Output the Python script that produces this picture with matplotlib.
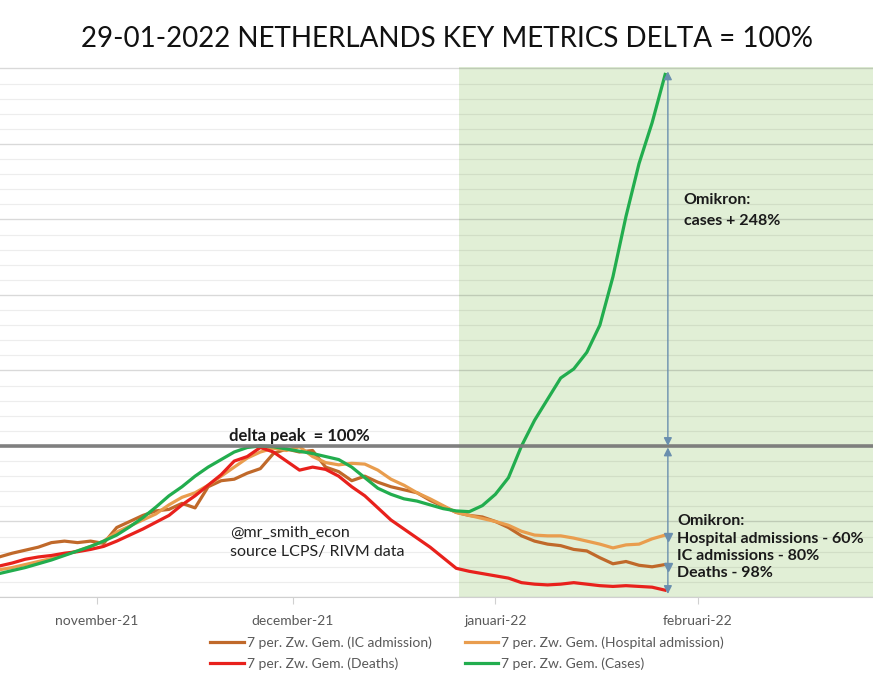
import numpy as np
import pandas as pd
import matplotlib
matplotlib.use("Agg")
import matplotlib.pyplot as plt
import matplotlib.dates as mdates
from matplotlib.ticker import MultipleLocator

# Datos (% del pico delta), cada 2 dias desde 17-10-2021
fechas = pd.date_range("2021-10-17", periods=52, freq="2D")

ic_admission = [26.5, 29, 31, 33, 36, 37, 36, 37, 35.5, 46, 50, 54, 57, 58, 62, 59,
                73, 77, 78, 82, 85, 95, 98, 96, 97, 86, 83, 77, 80, 76, 73, 71,
                69, 64, 60, 56, 54, 53, 50, 46, 40.5, 37, 35, 34, 31.5, 30.5, 26, 22,
                23.5, 21, 20, 21.5]
hospital_admission = [18, 19.5, 21.5, 23.5, 25.5, 28, 30.5, 33.5, 37, 43, 47, 51, 55, 61, 66, 69,
                      74, 80, 86, 92, 96, 98.5, 97, 99.5, 93, 89, 87.5, 88.5, 88, 84, 78, 74,
                      69, 65, 60.5, 56, 54, 52, 50, 47.5, 43.5, 41, 40.5, 40.5, 39, 37, 35, 32.5,
                      34.5, 35, 38.5, 41]
deaths = [20.5, 22.5, 25, 26.5, 27.5, 29, 30, 31.5, 33.5, 37, 41, 45, 49.5, 54, 61, 67,
          74, 81, 90, 93, 99, 96, 90, 84, 86, 84.5, 80, 73, 67, 59, 51, 45,
          39, 33, 26, 19, 17, 15.5, 14, 12.5, 9.5, 8.5, 8, 8.5, 9.5, 8.5, 7.5, 7,
          7.5, 7, 6.5, 4.5]
cases = [15.5, 17.5, 19.5, 22, 24.5, 27.5, 30.5, 33.5, 37, 41, 46.5, 52.5, 59.5, 67, 73, 80,
         86, 91, 96, 99, 100, 99.5, 98, 96.5, 95, 93, 91, 86, 79, 72, 68, 65,
         63.5, 61, 58.5, 57, 56.5, 60.5, 68, 79, 100, 117, 131, 145, 151, 162, 180, 212,
         252, 287, 314, 346]

etiquetas_mes = ["november-21", "december-21", "januari-22", "februari-22"]
fechas_mes = pd.to_datetime(["2021-11-01", "2021-12-01", "2022-01-01", "2022-02-01"])

omikron_inicio = pd.Timestamp("2021-12-26 10:00")
fecha_flecha = pd.Timestamp("2022-01-27 10:00")

plt.rcParams["font.family"] = ["Lato", "DejaVu Sans"]

fig = plt.figure(figsize=(8.73, 6.84), dpi=100)
ax = fig.add_axes([0, 0.1272, 1, 0.775])

# zona omikron
ax.axvspan(omikron_inicio, pd.Timestamp("2022-03-05"), color="#e1efd6", zorder=0.1, lw=0)

ax.plot(fechas, ic_admission, color="#c0692a", lw=2.3, label="7 per. Zw. Gem. (IC admission)")
ax.plot(fechas, hospital_admission, color="#e99d4e", lw=2.3, label="7 per. Zw. Gem. (Hospital admission)")
ax.plot(fechas, deaths, color="#e8211c", lw=2.3, label="7 per. Zw. Gem. (Deaths)")
ax.plot(fechas, cases, color="#22ad4e", lw=2.3, label="7 per. Zw. Gem. (Cases)")

# linea del pico delta
ax.axhline(100, color="#7a7a7a", lw=2.6, alpha=0.95, zorder=2)

ax.set_xlim(pd.Timestamp("2021-10-17 03:00"), pd.Timestamp("2022-02-27 20:00"))
ax.set_ylim(0, 351)

ax.yaxis.set_major_locator(MultipleLocator(50))
ax.yaxis.set_minor_locator(MultipleLocator(10))
ax.set_axisbelow(True)
ax.grid(axis="y", which="major", color="black", alpha=0.15, lw=1)
ax.grid(axis="y", which="minor", color="black", alpha=0.07, lw=0.9)
ax.tick_params(axis="y", which="both", left=False, labelleft=False)

ax.set_xticks(fechas_mes)
ax.set_xticklabels(etiquetas_mes, color="#595959", fontsize=10)
ax.tick_params(axis="x", length=5, color="#d0d0d0", pad=8)

for lado in ["top", "left", "right"]:
    ax.spines[lado].set_visible(False)
ax.spines["bottom"].set_color("#d0d0d0")

# flechas
color_flecha = "#6a8fae"
ax.annotate("", xy=(fecha_flecha, 348), xytext=(fecha_flecha, 100),
            arrowprops=dict(arrowstyle="<|-|>", color=color_flecha, lw=1, mutation_scale=12,
                            shrinkA=0, shrinkB=0))
ax.annotate("", xy=(fecha_flecha, 2), xytext=(fecha_flecha, 99),
            arrowprops=dict(arrowstyle="<|-|>", color=color_flecha, lw=1, mutation_scale=12,
                            shrinkA=0, shrinkB=0))
ax.plot([fecha_flecha, fecha_flecha], [40, 20], ls="none", marker="v", ms=6, color=color_flecha)

# textos
ax.text(pd.Timestamp("2021-11-21 06:00"), 101.5, "delta peak  = 100%", fontsize=12,
        fontweight="bold", color="#1a1a1a", va="bottom")
ax.text(pd.Timestamp("2021-11-21 10:00"), 36, "@mr_smith_econ\nsource LCPS/ RIVM data",
        fontsize=11.5, color="#222222", va="center", linespacing=1.5)
ax.text(pd.Timestamp("2022-01-29 20:00"), 256, "Omikron:\ncases + 248%", fontsize=11.5,
        fontweight="bold", color="#1a1a1a", va="center", linespacing=1.7)
ax.text(pd.Timestamp("2022-01-28 20:00"), 33,
        "Omikron:\nHospital admissions - 60%\nIC admissions - 80%\nDeaths - 98%",
        fontsize=11.5, fontweight="bold", color="#1a1a1a", va="center", linespacing=1.3)

fig.suptitle("29-01-2022 NETHERLANDS KEY METRICS DELTA = 100%", x=0.512, y=0.962,
             fontsize=20, color="#111111")

h, l = ax.get_legend_handles_labels()
orden = [0, 2, 1, 3]
fig.legend([h[i] for i in orden], [l[i] for i in orden], ncol=2, loc="center",
           bbox_to_anchor=(0.535, 0.045), frameon=False, fontsize=10, labelcolor="#595959",
           handlelength=2.4, columnspacing=2.4, handletextpad=0.2, labelspacing=0.6)

fig.savefig("out.png", dpi=100)
